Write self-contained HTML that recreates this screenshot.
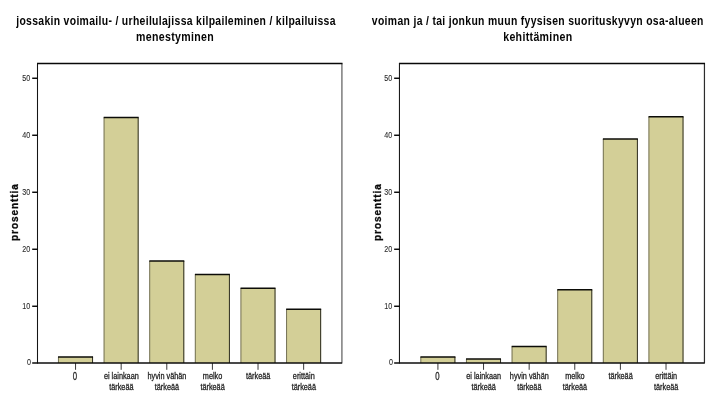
<!DOCTYPE html>
<html lang="fi">
<head>
<meta charset="utf-8">
<title>prosenttia</title>
<style>
html,body{margin:0;padding:0;background:#fff;}
body{width:715px;height:400px;overflow:hidden;}
svg{display:block;}
text{font-family:"Liberation Sans","DejaVu Sans",sans-serif;}
.tt{font-size:13px;font-weight:bold;fill:#050505;text-anchor:middle;letter-spacing:0.41px;}
.yl{font-size:9.4px;fill:#2a2a2a;stroke:#2a2a2a;stroke-width:0.1px;text-anchor:end;}
.xl{font-size:8.8px;fill:#1c1c1c;stroke:#1c1c1c;stroke-width:0.28px;text-anchor:middle;}
.xd{font-size:11.6px;fill:#2a2a2a;stroke:#2a2a2a;stroke-width:0.35px;text-anchor:middle;}
.yt{font-size:10px;font-weight:bold;fill:#0a0a0a;stroke:#0a0a0a;stroke-width:0.3px;text-anchor:middle;letter-spacing:0.95px;}
</style>
</head>
<body>
<svg width="715" height="400" viewBox="0 0 715 400">
<rect width="715" height="400" fill="#ffffff"/>
<g>
<text class="tt" transform="translate(176.00,24.95) scale(0.8,1)">jossakin voimailu- / urheilulajissa kilpaileminen / kilpailuissa</text>
<text class="tt" transform="translate(175.00,40.75) scale(0.815,1)">menestyminen</text>
<rect x="58.05" y="356.90" width="35.00" height="6.10" fill="#d3cf97"/>
<line x1="58.45" y1="356.90" x2="58.45" y2="363.0" stroke="#4a4836" stroke-width="0.7"/>
<line x1="92.55" y1="356.90" x2="92.55" y2="363.0" stroke="#1a1a12" stroke-width="0.9"/>
<line x1="58.05" y1="356.90" x2="93.05" y2="356.90" stroke="#0c0c08" stroke-width="1.5"/>
<line x1="75.55" y1="363.0" x2="75.55" y2="369.8" stroke="#222" stroke-width="0.9"/>
<rect x="103.67" y="117.56" width="35.00" height="245.44" fill="#d3cf97"/>
<line x1="104.07" y1="117.56" x2="104.07" y2="363.0" stroke="#4a4836" stroke-width="0.7"/>
<line x1="138.17" y1="117.56" x2="138.17" y2="363.0" stroke="#1a1a12" stroke-width="0.9"/>
<line x1="103.67" y1="117.56" x2="138.67" y2="117.56" stroke="#0c0c08" stroke-width="1.5"/>
<line x1="121.17" y1="363.0" x2="121.17" y2="369.8" stroke="#222" stroke-width="0.9"/>
<rect x="149.29" y="260.97" width="35.00" height="102.03" fill="#d3cf97"/>
<line x1="149.69" y1="260.97" x2="149.69" y2="363.0" stroke="#4a4836" stroke-width="0.7"/>
<line x1="183.79" y1="260.97" x2="183.79" y2="363.0" stroke="#1a1a12" stroke-width="0.9"/>
<line x1="149.29" y1="260.97" x2="184.29" y2="260.97" stroke="#0c0c08" stroke-width="1.5"/>
<line x1="166.79" y1="363.0" x2="166.79" y2="369.8" stroke="#222" stroke-width="0.9"/>
<rect x="194.91" y="274.54" width="35.00" height="88.46" fill="#d3cf97"/>
<line x1="195.31" y1="274.54" x2="195.31" y2="363.0" stroke="#4a4836" stroke-width="0.7"/>
<line x1="229.41" y1="274.54" x2="229.41" y2="363.0" stroke="#1a1a12" stroke-width="0.9"/>
<line x1="194.91" y1="274.54" x2="229.91" y2="274.54" stroke="#0c0c08" stroke-width="1.5"/>
<line x1="212.41" y1="363.0" x2="212.41" y2="369.8" stroke="#222" stroke-width="0.9"/>
<rect x="240.53" y="288.33" width="35.00" height="74.67" fill="#d3cf97"/>
<line x1="240.93" y1="288.33" x2="240.93" y2="363.0" stroke="#4a4836" stroke-width="0.7"/>
<line x1="275.03" y1="288.33" x2="275.03" y2="363.0" stroke="#1a1a12" stroke-width="0.9"/>
<line x1="240.53" y1="288.33" x2="275.53" y2="288.33" stroke="#0c0c08" stroke-width="1.5"/>
<line x1="258.03" y1="363.0" x2="258.03" y2="369.8" stroke="#222" stroke-width="0.9"/>
<rect x="286.15" y="309.13" width="35.00" height="53.87" fill="#d3cf97"/>
<line x1="286.55" y1="309.13" x2="286.55" y2="363.0" stroke="#4a4836" stroke-width="0.7"/>
<line x1="320.65" y1="309.13" x2="320.65" y2="363.0" stroke="#1a1a12" stroke-width="0.9"/>
<line x1="286.15" y1="309.13" x2="321.15" y2="309.13" stroke="#0c0c08" stroke-width="1.5"/>
<line x1="303.65" y1="363.0" x2="303.65" y2="369.8" stroke="#222" stroke-width="0.9"/>
<line x1="341.9" y1="63.5" x2="341.9" y2="363.6" stroke="#7c7c7c" stroke-width="1.5"/>
<line x1="37.0" y1="63.5" x2="342.5" y2="63.5" stroke="#080808" stroke-width="1.5"/>
<line x1="37.5" y1="63.5" x2="37.5" y2="363.6" stroke="#151515" stroke-width="1.05"/>
<line x1="32.2" y1="363.0" x2="341.9" y2="363.0" stroke="#0c0c0c" stroke-width="1.35"/>
<text class="yl" transform="translate(31.00,365.00) scale(0.76,1)">0</text>
<line x1="32.2" y1="306.25" x2="37.6" y2="306.25" stroke="#000" stroke-width="1.4"/>
<text class="yl" transform="translate(30.20,309.10) scale(0.76,1)">10</text>
<line x1="32.2" y1="249.25" x2="37.6" y2="249.25" stroke="#000" stroke-width="1.4"/>
<text class="yl" transform="translate(30.20,252.10) scale(0.76,1)">20</text>
<line x1="32.2" y1="192.25" x2="37.6" y2="192.25" stroke="#000" stroke-width="1.4"/>
<text class="yl" transform="translate(30.20,195.10) scale(0.76,1)">30</text>
<line x1="32.2" y1="135.25" x2="37.6" y2="135.25" stroke="#000" stroke-width="1.4"/>
<text class="yl" transform="translate(30.20,138.10) scale(0.76,1)">40</text>
<line x1="32.2" y1="78.25" x2="37.6" y2="78.25" stroke="#000" stroke-width="1.4"/>
<text class="yl" transform="translate(30.20,81.10) scale(0.76,1)">50</text>
<text class="yt" transform="translate(18.20,212.1) rotate(-90) scale(1.0,1)">prosenttia</text>
<text class="xd" transform="translate(75.00,379.65) scale(0.67,1)">0</text>
<text class="xl" transform="translate(121.32,379.20) scale(0.83,1)">ei lainkaan</text>
<text class="xl" transform="translate(121.32,389.90) scale(0.83,1)">tärkeää</text>
<text class="xl" transform="translate(166.94,379.20) scale(0.83,1)">hyvin vähän</text>
<text class="xl" transform="translate(166.94,389.90) scale(0.83,1)">tärkeää</text>
<text class="xl" transform="translate(212.56,379.20) scale(0.83,1)">melko</text>
<text class="xl" transform="translate(212.56,389.90) scale(0.83,1)">tärkeää</text>
<text class="xl" transform="translate(258.18,379.20) scale(0.83,1)">tärkeää</text>
<text class="xl" transform="translate(303.80,379.20) scale(0.83,1)">erittäin</text>
<text class="xl" transform="translate(303.80,389.90) scale(0.83,1)">tärkeää</text>
</g>
<g>
<text class="tt" transform="translate(537.80,24.95) scale(0.8,1)">voiman ja / tai jonkun muun fyysisen suorituskyvyn osa-alueen</text>
<text class="tt" transform="translate(537.80,40.75) scale(0.815,1)">kehittäminen</text>
<rect x="420.42" y="356.90" width="35.00" height="6.10" fill="#d3cf97"/>
<line x1="420.82" y1="356.90" x2="420.82" y2="363.0" stroke="#4a4836" stroke-width="0.7"/>
<line x1="454.92" y1="356.90" x2="454.92" y2="363.0" stroke="#1a1a12" stroke-width="0.9"/>
<line x1="420.42" y1="356.90" x2="455.42" y2="356.90" stroke="#0c0c08" stroke-width="1.5"/>
<line x1="437.92" y1="363.0" x2="437.92" y2="369.8" stroke="#222" stroke-width="0.9"/>
<rect x="466.04" y="359.01" width="35.00" height="3.99" fill="#d3cf97"/>
<line x1="466.44" y1="359.01" x2="466.44" y2="363.0" stroke="#4a4836" stroke-width="0.7"/>
<line x1="500.54" y1="359.01" x2="500.54" y2="363.0" stroke="#1a1a12" stroke-width="0.9"/>
<line x1="466.04" y1="359.01" x2="501.04" y2="359.01" stroke="#0c0c08" stroke-width="1.5"/>
<line x1="483.54" y1="363.0" x2="483.54" y2="369.8" stroke="#222" stroke-width="0.9"/>
<rect x="511.66" y="346.47" width="35.00" height="16.53" fill="#d3cf97"/>
<line x1="512.06" y1="346.47" x2="512.06" y2="363.0" stroke="#4a4836" stroke-width="0.7"/>
<line x1="546.16" y1="346.47" x2="546.16" y2="363.0" stroke="#1a1a12" stroke-width="0.9"/>
<line x1="511.66" y1="346.47" x2="546.66" y2="346.47" stroke="#0c0c08" stroke-width="1.5"/>
<line x1="529.16" y1="363.0" x2="529.16" y2="369.8" stroke="#222" stroke-width="0.9"/>
<rect x="557.28" y="289.81" width="35.00" height="73.19" fill="#d3cf97"/>
<line x1="557.68" y1="289.81" x2="557.68" y2="363.0" stroke="#4a4836" stroke-width="0.7"/>
<line x1="591.78" y1="289.81" x2="591.78" y2="363.0" stroke="#1a1a12" stroke-width="0.9"/>
<line x1="557.28" y1="289.81" x2="592.28" y2="289.81" stroke="#0c0c08" stroke-width="1.5"/>
<line x1="574.78" y1="363.0" x2="574.78" y2="369.8" stroke="#222" stroke-width="0.9"/>
<rect x="602.90" y="138.99" width="35.00" height="224.01" fill="#d3cf97"/>
<line x1="603.30" y1="138.99" x2="603.30" y2="363.0" stroke="#4a4836" stroke-width="0.7"/>
<line x1="637.40" y1="138.99" x2="637.40" y2="363.0" stroke="#1a1a12" stroke-width="0.9"/>
<line x1="602.90" y1="138.99" x2="637.90" y2="138.99" stroke="#0c0c08" stroke-width="1.5"/>
<line x1="620.40" y1="363.0" x2="620.40" y2="369.8" stroke="#222" stroke-width="0.9"/>
<rect x="648.52" y="116.76" width="35.00" height="246.24" fill="#d3cf97"/>
<line x1="648.92" y1="116.76" x2="648.92" y2="363.0" stroke="#4a4836" stroke-width="0.7"/>
<line x1="683.02" y1="116.76" x2="683.02" y2="363.0" stroke="#1a1a12" stroke-width="0.9"/>
<line x1="648.52" y1="116.76" x2="683.52" y2="116.76" stroke="#0c0c08" stroke-width="1.5"/>
<line x1="666.02" y1="363.0" x2="666.02" y2="369.8" stroke="#222" stroke-width="0.9"/>
<line x1="704.45" y1="63.5" x2="704.45" y2="363.6" stroke="#2c2c2c" stroke-width="1.2"/>
<line x1="398.95" y1="63.5" x2="705.0500000000001" y2="63.5" stroke="#080808" stroke-width="1.5"/>
<line x1="399.45" y1="63.5" x2="399.45" y2="363.6" stroke="#151515" stroke-width="1.05"/>
<line x1="394.15000000000003" y1="363.0" x2="704.45" y2="363.0" stroke="#0c0c0c" stroke-width="1.35"/>
<text class="yl" transform="translate(392.95,365.00) scale(0.76,1)">0</text>
<line x1="394.15000000000003" y1="306.25" x2="399.55" y2="306.25" stroke="#000" stroke-width="1.4"/>
<text class="yl" transform="translate(392.15,309.10) scale(0.76,1)">10</text>
<line x1="394.15000000000003" y1="249.25" x2="399.55" y2="249.25" stroke="#000" stroke-width="1.4"/>
<text class="yl" transform="translate(392.15,252.10) scale(0.76,1)">20</text>
<line x1="394.15000000000003" y1="192.25" x2="399.55" y2="192.25" stroke="#000" stroke-width="1.4"/>
<text class="yl" transform="translate(392.15,195.10) scale(0.76,1)">30</text>
<line x1="394.15000000000003" y1="135.25" x2="399.55" y2="135.25" stroke="#000" stroke-width="1.4"/>
<text class="yl" transform="translate(392.15,138.10) scale(0.76,1)">40</text>
<line x1="394.15000000000003" y1="78.25" x2="399.55" y2="78.25" stroke="#000" stroke-width="1.4"/>
<text class="yl" transform="translate(392.15,81.10) scale(0.76,1)">50</text>
<text class="yt" transform="translate(381.00,212.1) rotate(-90) scale(1.0,1)">prosenttia</text>
<text class="xd" transform="translate(437.37,379.65) scale(0.67,1)">0</text>
<text class="xl" transform="translate(483.69,379.20) scale(0.83,1)">ei lainkaan</text>
<text class="xl" transform="translate(483.69,389.90) scale(0.83,1)">tärkeää</text>
<text class="xl" transform="translate(529.31,379.20) scale(0.83,1)">hyvin vähän</text>
<text class="xl" transform="translate(529.31,389.90) scale(0.83,1)">tärkeää</text>
<text class="xl" transform="translate(574.93,379.20) scale(0.83,1)">melko</text>
<text class="xl" transform="translate(574.93,389.90) scale(0.83,1)">tärkeää</text>
<text class="xl" transform="translate(620.55,379.20) scale(0.83,1)">tärkeää</text>
<text class="xl" transform="translate(666.17,379.20) scale(0.83,1)">erittäin</text>
<text class="xl" transform="translate(666.17,389.90) scale(0.83,1)">tärkeää</text>
</g>
</svg>
</body>
</html>
